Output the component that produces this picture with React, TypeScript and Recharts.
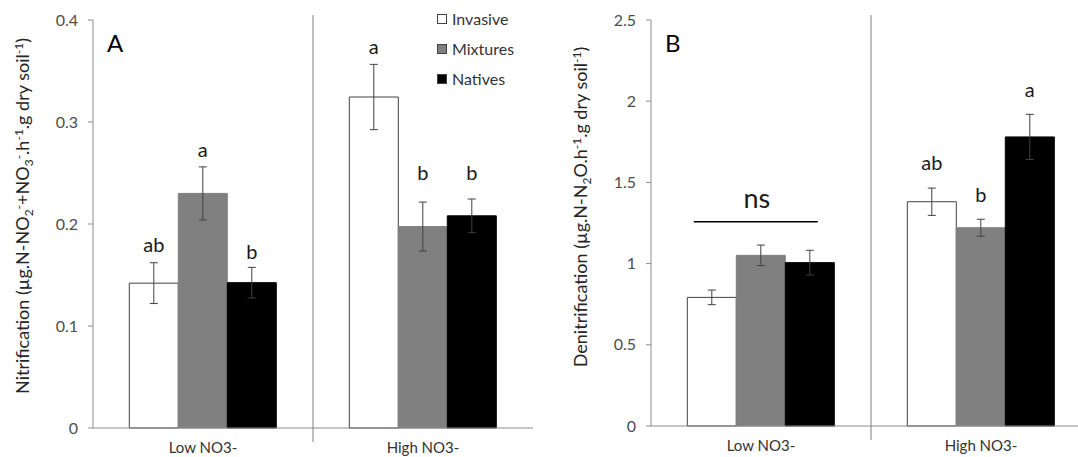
import React from "react";
import { BarChart, Bar, XAxis, YAxis, ErrorBar, LabelList, Legend, ReferenceLine } from "recharts";

const categories = ["Low NO3-", "High NO3-"];
const seriesNames = ["Invasive", "Mixtures", "Natives"];
const seriesColors = ["#ffffff", "#808080", "#000000"];

// panel A - nitrification
const nitInvasive = [0.142, 0.3245];
const nitMixtures = [0.23, 0.1975];
const nitNatives = [0.1425, 0.208];
const nitInvasiveErr = [0.02, 0.032];
const nitMixturesErr = [0.026, 0.024];
const nitNativesErr = [0.015, 0.0165];
const nitTicks = [0, 0.1, 0.2, 0.3, 0.4];
const nitLetters = [["ab", "a"], ["a", "b"], ["b", "b"]];
const nitLetterAt = [[0.173, 0.367], [0.266, 0.243], [0.166, 0.243]];

// panel B - denitrification
const denInvasive = [0.792, 1.381];
const denMixtures = [1.051, 1.221];
const denNatives = [1.006, 1.78];
const denInvasiveErr = [0.045, 0.084];
const denMixturesErr = [0.063, 0.052];
const denNativesErr = [0.076, 0.139];
const denTicks = [0, 0.5, 1, 1.5, 2, 2.5];
const denLetters = [["", "ab"], ["", "b"], ["", "a"]];
const denLetterAt = [[0, 1.576], [0, 1.381], [0, 2.028]];
const nsText = "ns";
const nsLineAt = 1.258;
const nsTextAt = 1.34;

type Seg = [string, string?];

const nitTitle: Seg[] = [
  ["Nitrification (µg.N-NO"], ["2", "sub"], ["-", "sup"], ["+NO"], ["3", "sub"], ["-", "sup"],
  [".h"], ["-1", "sup"], [".g dry soil"], ["-1", "sup"], [")"],
];
const denTitle: Seg[] = [
  ["Denitrification (µg.N-N"], ["2", "sub"], ["O.h"], ["-1", "sup"], [".g dry soil"], ["-1", "sup"], [")"],
];

function buildRows(vals: number[][], errs: number[][]) {
  return categories.map((category, i) => {
    const row: any = { category };
    seriesNames.forEach((s, k) => {
      row[s] = vals[k][i];
      row[s + "Err"] = errs[k][i];
    });
    return row;
  });
}

const nitRows = buildRows([nitInvasive, nitMixtures, nitNatives], [nitInvasiveErr, nitMixturesErr, nitNativesErr]);
const denRows = buildRows([denInvasive, denMixtures, denNatives], [denInvasiveErr, denMixturesErr, denNativesErr]);

const AxisTitle = (props: any) => {
  const { viewBox, segs, dx, dyOffset, panel } = props;
  const cx = viewBox.x + dx;
  const cy = viewBox.y + viewBox.height / 2 + dyOffset;
  let shift = 0;
  return (
    <g>
      <text transform={`rotate(-90 ${cx} ${cy})`} x={cx} y={cy} textAnchor="middle" fontSize={18} fill="#262626">
        {segs.map(([t, k]: Seg, i: number) => {
          const target = k === "sub" ? 4 : k === "sup" ? -6 : 0;
          const d = target - shift;
          shift = target;
          return (
            <tspan key={i} dy={d} fontSize={k ? 12 : 18}>
              {t}
            </tspan>
          );
        })}
      </text>
      <text x={viewBox.x + viewBox.width + 14} y={52} fontSize={24} fill="#000">
        {panel}
      </text>
    </g>
  );
};

function letterLabel(letters: string[], at: number[]) {
  return (props: any) => {
    const { index, value } = props;
    const vb = props.viewBox || props;
    const txt = letters[index];
    if (!txt || !value) return null;
    const perUnit = vb.height / value;
    const baseY = vb.y + vb.height - at[index] * perUnit;
    return (
      <text x={vb.x + vb.width / 2} y={baseY} textAnchor="middle" fontSize={20} fill="#1a1a1a">
        {txt}
      </text>
    );
  };
}

const nsLabel = (props: any) => {
  const { index, value } = props;
  if (index !== 0 || !value) return null;
  const vb = props.viewBox || props;
  const perUnit = vb.height / value;
  const base = vb.y + vb.height;
  const cx = vb.x + vb.width / 2;
  return (
    <g>
      <line x1={cx - 67} x2={cx + 57} y1={base - nsLineAt * perUnit} y2={base - nsLineAt * perUnit} stroke="#000" strokeWidth={1.5} />
      <text x={cx - 4} y={base - nsTextAt * perUnit} textAnchor="middle" fontSize={27} fill="#1a1a1a">
        {nsText}
      </text>
    </g>
  );
};

const Divider = (p: any) => {
  const top = Math.min(p.y1, p.y2);
  const bottom = Math.max(p.y1, p.y2);
  return <line x1={p.x1} x2={p.x2} y1={top - 5} y2={bottom + 14} stroke="#7f7f7f" strokeWidth={1} />;
};

const LegendBox = () => (
  <div style={{ fontSize: 16, color: "#333", lineHeight: "30px" }}>
    {seriesNames.map((n, i) => (
      <div key={n} style={{ display: "flex", alignItems: "center", height: 30 }}>
        <span
          style={{
            display: "inline-block",
            width: 8,
            height: 8,
            background: seriesColors[i],
            border: "1px solid #404040",
            marginRight: 5,
          }}
        />
        <span>{n}</span>
      </div>
    ))}
  </div>
);

function Panel(props: any) {
  const { rows, ticks, domain, letters, letterAt, title, panel, xHeight, titleOffset, withLegend, withNs } = props;
  return (
    <BarChart
      width={558}
      height={457}
      data={rows}
      margin={{ top: 20, right: 25, left: 0, bottom: 0 }}
      barCategoryGap="16.5%"
      barGap={0}
    >
      <XAxis
        dataKey="category"
        interval={0}
        height={xHeight}
        tickLine={false}
        tickSize={0}
        tickMargin={14}
        axisLine={{ stroke: "#8c8c8c" }}
        tick={{ fontSize: 15, fill: "#333" }}
      />
      <YAxis
        width={93}
        domain={domain}
        ticks={ticks}
        interval={0}
        tickSize={5}
        tickMargin={10}
        axisLine={{ stroke: "#8c8c8c" }}
        tickLine={{ stroke: "#8c8c8c" }}
        tick={{ fontSize: 16, fill: "#4d4d4d" }}
        label={<AxisTitle segs={title} dx={29} dyOffset={titleOffset} panel={panel} />}
      />
      <ReferenceLine x={categories[1]} position="start" stroke="#7f7f7f" shape={Divider} />
      {withLegend && (
        <Legend
          layout="vertical"
          align="center"
          verticalAlign="middle"
          content={<LegendBox />}
          wrapperStyle={{ top: 4, left: 437, width: 100, height: 92 }}
        />
      )}
      {seriesNames.map((s, k) => (
        <Bar
          key={s}
          dataKey={s}
          name={s}
          fill={seriesColors[k]}
          stroke={k === 0 ? "#404040" : seriesColors[k]}
          strokeWidth={1}
          isAnimationActive={false}
        >
          <ErrorBar dataKey={s + "Err"} width={4} stroke="#404040" strokeWidth={1} direction="y" isAnimationActive={false} />
          <LabelList dataKey={s} content={letterLabel(letters[k], letterAt[k])} />
          {withNs && k === 1 && <LabelList dataKey={s} content={nsLabel} />}
        </Bar>
      ))}
    </BarChart>
  );
}

export default function App() {
  return (
    <div
      style={{
        position: "absolute",
        left: 0,
        top: 0,
        width: 1078,
        height: 457,
        overflow: "hidden",
        background: "#fff",
        fontFamily: "Lato, 'Open Sans', sans-serif",
      }}
    >
      <div style={{ position: "absolute", left: 0, top: 0 }}>
        <Panel
          rows={nitRows}
          ticks={nitTicks}
          domain={[0, 0.4]}
          letters={nitLetters}
          letterAt={nitLetterAt}
          title={nitTitle}
          panel="A"
          xHeight={29}
          titleOffset={-8}
          withLegend
        />
      </div>
      <div style={{ position: "absolute", left: 558, top: 0 }}>
        <Panel
          rows={denRows}
          ticks={denTicks}
          domain={[0, 2.5]}
          letters={denLetters}
          letterAt={denLetterAt}
          title={denTitle}
          panel="B"
          xHeight={31}
          titleOffset={-16}
          withNs
        />
      </div>
    </div>
  );
}
